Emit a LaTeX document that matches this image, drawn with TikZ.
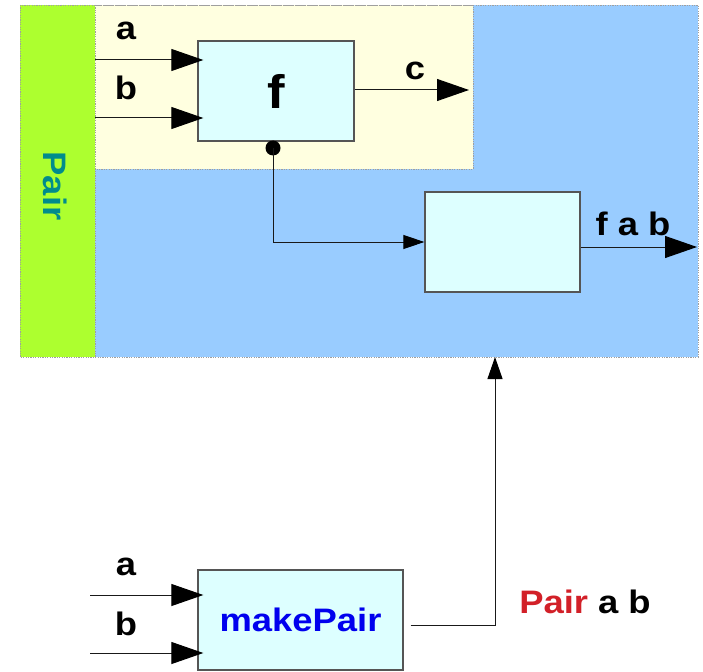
\documentclass[tikz,border=0pt]{standalone}
\usepackage{fontspec}
\setmainfont{Liberation Sans}[FakeStretch=1.12]
\usetikzlibrary{arrows.meta}
\definecolor{greenbar}{HTML}{ADFF2F}
\definecolor{bluebg}{HTML}{99CCFF}
\definecolor{yellowbg}{HTML}{FFFFE0}
\definecolor{cyanfill}{HTML}{DDFFFF}
\definecolor{boxgray}{HTML}{555555}
\definecolor{pairteal}{RGB}{0,140,140}
\definecolor{mpblue}{HTML}{0000EE}
\definecolor{pairred}{RGB}{210,32,40}
\newcommand{\lfont}{\fontsize{32.5}{38}\selectfont\bfseries}
\newcommand{\bigf}{\fontsize{47}{52}\selectfont\bfseries}
\begin{document}
\begin{tikzpicture}[x=1pt,y=-1pt,
  lbl/.style={font=\lfont, text=black, inner sep=0pt, anchor=base},
  blockbox/.style={draw=boxgray, line width=1.3pt, fill=cyanfill, minimum width=155pt, minimum height=100pt, inner sep=0pt},
  conn/.style={draw=black!90, line width=1pt},
  bigtip/.style={-{Triangle[length=32pt,width=22pt,color=black,fill=black]}},
  smalltip/.style={-{Triangle[length=21pt,width=14pt,color=black,fill=black]}},
  uptip/.style={-{Triangle[length=22pt,width=15pt,color=black,fill=black]}},
  dotborder/.style={draw=gray!75, line width=0.9pt, dash pattern=on 1.2pt off 1.2pt},
  jointdot/.style={circle, fill=black, minimum size=15pt, inner sep=0pt}
]
\useasboundingbox (0,0) rectangle (703,671);
% background regions
\fill[greenbar] (20,5) rectangle (95,357);
\fill[bluebg] (95,5) rectangle (698,357);
\fill[yellowbg] (95,5) rectangle (473,169);
\draw[dotborder] (95,5) rectangle (473,169);
\draw[dotborder] (20,5) rectangle (698,357);
\draw[dotborder] (95,5) -- (95,357);
\node[font=\lfont, text=pairteal, rotate=-90, inner sep=0pt] (pairv) at (55,186) {Pair};

% f block
\node[blockbox, minimum width=156pt] (f) at (276,91) {\bigf f};
\coordinate (ain) at (95,60);
\coordinate (bin) at (95,118);
\draw[conn,bigtip,shorten >=-6pt] (ain) -- (ain -| f.west);
\draw[conn,bigtip,shorten >=-6pt] (bin) -- (bin -| f.west);
\node[lbl] (la) at (126,40) {a};
\node[lbl] (lb) at (126,100) {b};
\coordinate (cend) at (469,90);
\draw[conn,bigtip] (cend -| f.east) -- (cend);
\node[lbl] (lc) at (415,80) {c};

% second block
\node[jointdot] (d) at (273,148) {};
\node[blockbox] (g) at (502.5,242) {};
\draw[conn,smalltip] (d.center) |- (g.west);
\coordinate (fabend) at (697,247);
\draw[conn,bigtip] (fabend -| g.east) -- (fabend);
\node[lbl] (lfab) at (633,235) {f a b};

% makePair
\node[blockbox, minimum width=205pt, font=\lfont, text=mpblue] (mp) at (300.5,620) {makePair};
\coordinate (ma) at (90,595);
\coordinate (mb) at (90,653);
\draw[conn,bigtip,shorten >=-6pt] (ma) -- (ma -| mp.west);
\draw[conn,bigtip,shorten >=-6pt] (mb) -- (mb -| mp.west);
\node[lbl] (lma) at (126,575) {a};
\node[lbl] (lmb) at (126,635) {b};
\coordinate (up) at (495,357);
\draw[conn,uptip] ([shift={(7,5)}]mp.east) -| (up);
\node[lbl] (lpair) at (585,613) {\textcolor{pairred}{Pair} a b};
\end{tikzpicture}
\end{document}
